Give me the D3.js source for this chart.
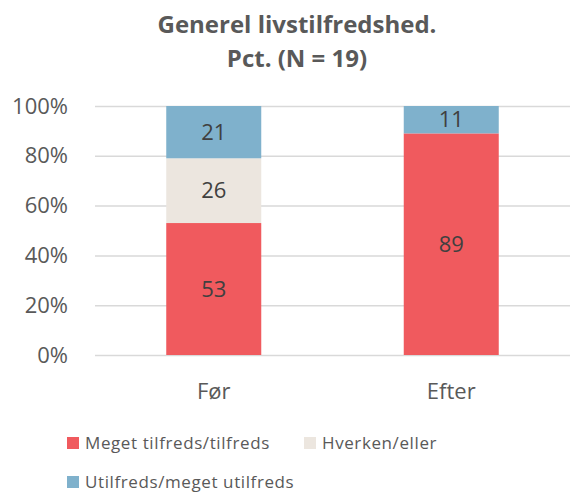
<!DOCTYPE html>
<html>
<head>
<meta charset="utf-8">
<script src="https://cdn.jsdelivr.net/npm/d3@7"></script>
<style>
  body { margin: 0; background: #fff; }
  svg { display: block; font-family: "Open Sans", sans-serif; }
</style>
</head>
<body>
<div id="chart"></div>
<script>
// data
const categories = ["Før", "Efter"]
const seriesNames = ["Meget tilfreds/tilfreds", "Hverken/eller", "Utilfreds/meget utilfreds"]
const tilfreds = [53, 89]
const hverken = [26, 0]
const utilfreds = [21, 11]
const yTicks = [0, 20, 40, 60, 80, 100]
const colors = ["#f05a5e", "#ece6df", "#7fb1cc"]

const width = 570, height = 492
const svg = d3.select("#chart").append("svg")
  .attr("width", width)
  .attr("height", height)

// title, two lines
svg.append("text")
  .attr("x", 297).attr("y", 33)
  .attr("text-anchor", "middle")
  .attr("font-size", 24).attr("font-weight", "bold")
  .attr("fill", "#595959")
  .text("Generel livstilfredshed.")
svg.append("text")
  .attr("x", 297).attr("y", 67)
  .attr("text-anchor", "middle")
  .attr("font-size", 24).attr("font-weight", "bold")
  .attr("fill", "#595959")
  .text("Pct. (N = 19)")

const rows = categories.map((c, i) => ({cat: c, s0: tilfreds[i], s1: hverken[i], s2: utilfreds[i]}))
const stacked = d3.stack().keys(["s0", "s1", "s2"])(rows)

const x = d3.scaleBand().domain(categories).range([95, 570]).paddingInner(0.6).paddingOuter(0.3)
const y = d3.scaleLinear().domain([0, 100]).range([355, 106])

// gridlines + y labels
const yAxis = svg.append("g")
  .attr("transform", "translate(95,0)")
  .call(d3.axisLeft(y).tickValues(yTicks).tickSize(-475).tickFormat(d => d + "%").tickPadding(27))
yAxis.select(".domain").remove()
yAxis.selectAll(".tick line").attr("stroke", "#d9d9d9").attr("stroke-width", 1.5)
yAxis.selectAll(".tick text").attr("font-size", 22).attr("fill", "#595959").attr("font-family", "Open Sans")

// bars
const layer = svg.selectAll(".layer")
  .data(stacked)
  .enter().append("g")
  .attr("fill", (d, i) => colors[i])
layer.selectAll("rect")
  .data(d => d)
  .enter().append("rect")
  .attr("x", d => x(d.data.cat))
  .attr("width", x.bandwidth())
  .attr("y", d => y(d[1]))
  .attr("height", d => y(d[0]) - y(d[1]))

// value labels (skip empty segments)
stacked.forEach(s => {
  svg.selectAll(null)
    .data(s.filter(d => d[1] - d[0] > 0))
    .enter().append("text")
    .attr("x", d => x(d.data.cat) + x.bandwidth() / 2)
    .attr("y", d => y((d[0] + d[1]) / 2))
    .attr("dy", "0.35em")
    .attr("text-anchor", "middle")
    .attr("font-size", 22)
    .attr("fill", "#404040")
    .text(d => d[1] - d[0])
})

// x labels
const xAxis = svg.append("g")
  .attr("transform", "translate(0,355)")
  .call(d3.axisBottom(x).tickSize(0).tickPadding(28))
xAxis.select(".domain").remove()
xAxis.selectAll(".tick text").attr("font-size", 22).attr("fill", "#595959").attr("font-family", "Open Sans")

// legend
const legendPos = [[67, 437], [304, 437], [67, 476]]
const legend = svg.selectAll(".legend")
  .data(seriesNames)
  .enter().append("g")
  .attr("transform", (d, i) => `translate(${legendPos[i][0]},${legendPos[i][1]})`)
legend.append("rect")
  .attr("width", 12).attr("height", 12)
  .attr("fill", (d, i) => colors[i])
legend.append("text")
  .attr("x", 18).attr("y", 6).attr("dy", "0.35em")
  .attr("font-size", 17)
  .attr("letter-spacing", 0.6)
  .attr("fill", "#595959")
  .text(d => d)
</script>
</body>
</html>
